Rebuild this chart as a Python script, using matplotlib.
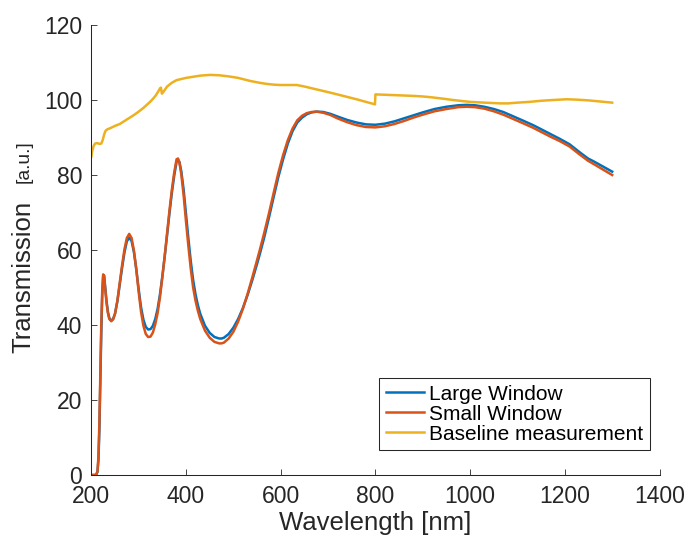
import matplotlib
matplotlib.use("Agg")
import matplotlib.pyplot as plt

plt.rcParams['font.family'] = ['Liberation Sans', 'DejaVu Sans']

# Large / small window spectra (shared wavelength grid)
wl = [200, 210, 213, 215, 217, 219, 221, 223, 225, 227, 229, 232, 235, 238,
      242, 246, 250, 255, 260, 265, 270, 275, 280, 285, 290, 295, 300, 305,
      310, 315, 320, 325, 330, 335, 340, 345, 350, 355, 360, 365, 370, 375,
      380, 383, 386, 390, 395, 400, 405, 410, 415, 420, 425, 430, 440, 450,
      460, 470, 475, 480, 490, 500, 510, 520, 530, 540, 550, 556, 565, 575,
      585, 595, 605, 615, 625, 635, 645, 655, 665, 676, 690, 705, 720, 740,
      760, 780, 800, 820, 840, 860, 880, 900, 925, 950, 975, 993, 1010, 1030,
      1050, 1070, 1090, 1110, 1133, 1150, 1170, 1190, 1210, 1230, 1249, 1260,
      1280, 1300]

large_window = [0, 0, 0.8, 4, 12, 25, 38, 48, 53, 53.2, 50.5, 46.5, 43.5, 41.8,
                41.2, 41.6, 43, 46.3, 50.8, 55.3, 59.4, 62.3, 63.3, 62.4, 59.4,
                54.8, 49.5, 44.7, 41.4, 39.5, 38.8, 38.9, 39.8, 41.6, 44.3, 48.2,
                53, 58.3, 64, 69.8, 75.2, 79.8, 83.5, 84.1, 83.5, 81, 76, 69.5,
                63, 57, 52, 48.2, 45.3, 43, 39.8, 37.9, 36.8, 36.4, 36.4, 36.6,
                37.6, 39.3, 41.6, 44.5, 48, 52, 56.3, 59, 63.3, 68.6, 74.1,
                79.5, 84.2, 88.4, 91.7, 94, 95.3, 96.2, 96.7, 96.9, 96.8, 96.3,
                95.6, 94.7, 94, 93.5, 93.4, 93.7, 94.3, 95.1, 95.9, 96.7, 97.6,
                98.2, 98.6, 98.7, 98.6, 98.2, 97.6, 96.8, 95.7, 94.6, 93.3, 92.2,
                90.9, 89.6, 88.2, 86.2, 84.4, 83.7, 82.3, 80.9]

small_window = [0, 0, 1, 5, 14, 27, 40, 49, 53.5, 53, 50, 46, 43.2, 41.6, 41,
                41.5, 43, 46.5, 51.3, 56, 60.2, 63.2, 64.3, 63.2, 59.8, 54.8,
                48.8, 43.5, 39.8, 37.6, 36.8, 36.9, 38, 40.2, 43.2, 47.5, 52.8,
                58.5, 64.5, 70.5, 76, 80.6, 84.2, 84.4, 83.3, 80.2, 74.5, 67.5,
                61, 55, 50, 46.5, 43.8, 41.6, 38.5, 36.6, 35.5, 35.1, 35.1, 35.3,
                36.4, 38.2, 40.9, 44.3, 48.3, 52.7, 57.3, 60.1, 64.5, 69.7, 75.2,
                80.6, 85.3, 89.3, 92.4, 94.6, 95.8, 96.5, 96.8, 96.9, 96.6, 96,
                95.1, 94.1, 93.3, 92.8, 92.7, 93, 93.6, 94.4, 95.3, 96.1, 97,
                97.6, 98.1, 98.2, 98.1, 97.7, 97, 96.1, 95, 93.9, 92.6, 91.5,
                90.2, 89, 87.6, 85.6, 83.8, 83, 81.5, 80]

# Baseline measurement
wl_base = [200, 202, 205, 208, 212, 218, 221, 224, 227, 230, 234, 240, 250,
           260, 270, 280, 290, 300, 310, 317, 324, 330, 336, 341, 345, 347,
           349, 353, 360, 370, 380, 390, 400, 415, 430, 451, 470, 490, 510,
           535, 555, 570, 585, 599, 615, 634, 650, 670, 690, 710, 735, 760,
           780, 799, 800, 820, 840, 860, 880, 900, 920, 940, 964, 985, 1000,
           1030, 1063, 1080, 1100, 1125, 1150, 1175, 1204, 1225, 1250, 1275,
           1300]
baseline = [84.9, 86.5, 87.8, 88.4, 88.5, 88.3, 88.4, 89.3, 90.8, 91.8, 92.2,
            92.5, 93.1, 93.6, 94.4, 95.2, 96, 96.9, 97.9, 98.7, 99.5, 100.3,
            101.2, 102.2, 103.1, 103.3, 101.7, 102.3, 103.6, 104.6, 105.3,
            105.6, 105.9, 106.2, 106.5, 106.7, 106.6, 106.3, 105.9, 105.1,
            104.6, 104.3, 104.1, 104, 104, 104, 103.6, 103, 102.4, 101.8,
            101, 100.2, 99.5, 98.85, 101.5, 101.4, 101.3, 101.2, 101.1, 100.95,
            100.7, 100.4, 100, 99.7, 99.5, 99.3, 99.1, 99.1, 99.3, 99.5, 99.8,
            100, 100.2, 100.1, 99.9, 99.6, 99.3]

xticks = [200, 400, 600, 800, 1000, 1200, 1400]
yticks = [0, 20, 40, 60, 80, 100, 120]

dark = '#262626'

fig = plt.figure(figsize=(6.93, 5.38), dpi=100)
ax = fig.add_axes([0.1318, 0.1171, 0.8199, 0.8364])

ax.plot(wl, large_window, color='#0072BD', lw=1.8, label='Large Window')
ax.plot(wl, small_window, color='#D95319', lw=1.8, label='Small Window')
ax.plot(wl_base, baseline, color='#EDB120', lw=1.8, label='Baseline measurement')

ax.set_xlim(200, 1400)
ax.set_ylim(0, 120)
ax.set_xticks(xticks)
ax.set_yticks(yticks)

for s in ['top', 'right']:
    ax.spines[s].set_visible(False)
for s in ['left', 'bottom']:
    ax.spines[s].set_color(dark)
    ax.spines[s].set_linewidth(0.75)

ax.tick_params(direction='in', length=4.3, width=0.6, colors=dark,
               labelsize=16.5)
ax.tick_params(axis='x', pad=7.5)
ax.tick_params(axis='y', pad=6.5)

ax.set_xlabel('Wavelength [nm]', fontsize=18.5, color=dark, labelpad=1.5)
fig.text(0.0332, 0.344, 'Transmission', rotation=90, ha='center',
         va='bottom', fontsize=18.5, color=dark)
fig.text(0.0346, 0.66, '[a.u.]', rotation=90, ha='center', va='bottom',
         fontsize=13.9, color=dark)

leg = ax.legend(loc='lower right', bbox_to_anchor=(0.983, 0.0556),
                borderaxespad=0, fontsize=15, fancybox=False, framealpha=1,
                edgecolor=dark, handlelength=1.85, handletextpad=0.25,
                labelspacing=0.05, borderpad=0.3)
leg.get_frame().set_linewidth(0.75)

plt.savefig('out.png', dpi=100)
